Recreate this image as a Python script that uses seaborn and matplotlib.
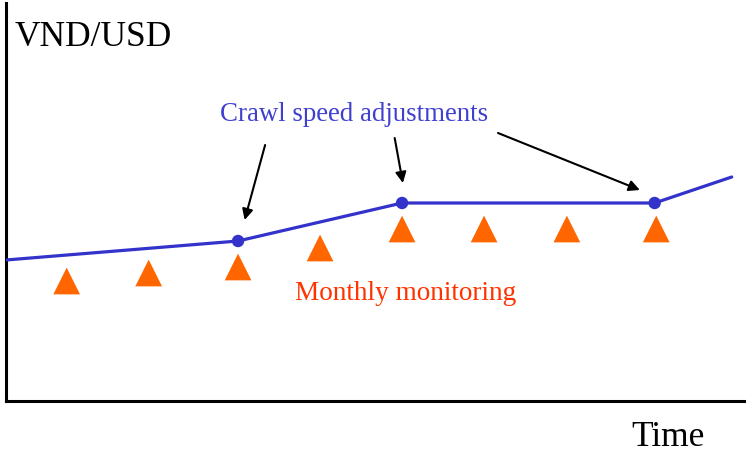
import pandas as pd
import matplotlib.pyplot as plt
import seaborn as sns

# crawl path of the exchange rate (x in months, y in arbitrary rate units)
path_x = [0.0, 2.83, 4.83, 7.91, 8.85]
path_y = [14.1, 16.0, 19.8, 19.8, 22.4]

# points where the crawl speed changed
adjust_x = [2.83, 4.83, 7.91]
adjust_y = [16.0, 19.8, 19.8]

# monthly monitoring checks
monitor_x = [0.74, 1.74, 2.83, 3.83, 4.83, 5.83, 6.84, 7.93]
monitor_y = [12.0, 12.8, 13.4, 15.3, 17.2, 17.2, 17.2, 17.2]

sns.set_style('white')
plt.rcParams['font.family'] = ['Liberation Serif', 'DejaVu Serif']

fig = plt.figure(figsize=(7.46, 4.53), dpi=100)
ax = fig.add_axes([6 / 746, 52 / 453, 740 / 746, 398 / 453])

path = pd.DataFrame({'x': path_x, 'y': path_y})
adjust = pd.DataFrame({'x': adjust_x, 'y': adjust_y})
monitor = pd.DataFrame({'x': monitor_x, 'y': monitor_y})

sns.scatterplot(data=monitor, x='x', y='y', marker='^', s=370, color='#ff6600',
                edgecolor='none', ax=ax, zorder=2)
sns.lineplot(data=path, x='x', y='y', color='#3333cc', linewidth=2.3, ax=ax,
             sort=False, zorder=3)
sns.scatterplot(data=adjust, x='x', y='y', s=80, color='#3333cc',
                edgecolor='none', ax=ax, zorder=4)

ax.set_xlim(0, 740 / 82)
ax.set_ylim(0, 39.8)
ax.set_xticks([])
ax.set_yticks([])
ax.set_xlabel('')
ax.set_ylabel('')
sns.despine(ax=ax)
for side in ['left', 'bottom']:
    ax.spines[side].set_color('black')
    ax.spines[side].set_linewidth(2.2)

ax.text(2.61, 28.6, 'Crawl speed adjustments', color='#3f3fd0', fontsize=19.4,
        ha='left', va='center')
ax.text(3.53, 10.8, 'Monthly monitoring', color='#ff3300', fontsize=19.6,
        ha='left', va='center')

arrow = dict(arrowstyle='-|>', color='black', lw=1.5, mutation_scale=16,
             shrinkA=0, shrinkB=0)
ax.annotate('', xy=(2.91, 18.1), xytext=(3.16, 25.6), arrowprops=arrow)
ax.annotate('', xy=(4.84, 21.8), xytext=(4.74, 26.3), arrowprops=arrow)
ax.annotate('', xy=(7.73, 21.1), xytext=(6.0, 26.8), arrowprops=arrow)

fig.text(15 / 746, 1 - 37 / 453, 'VND/USD', fontsize=25.5, color='black',
         ha='left', va='center')
fig.text(631 / 746, 1 - 438 / 453, 'Time', fontsize=25.5, color='black',
         ha='left', va='center')

fig.savefig('out.png', dpi=100)
